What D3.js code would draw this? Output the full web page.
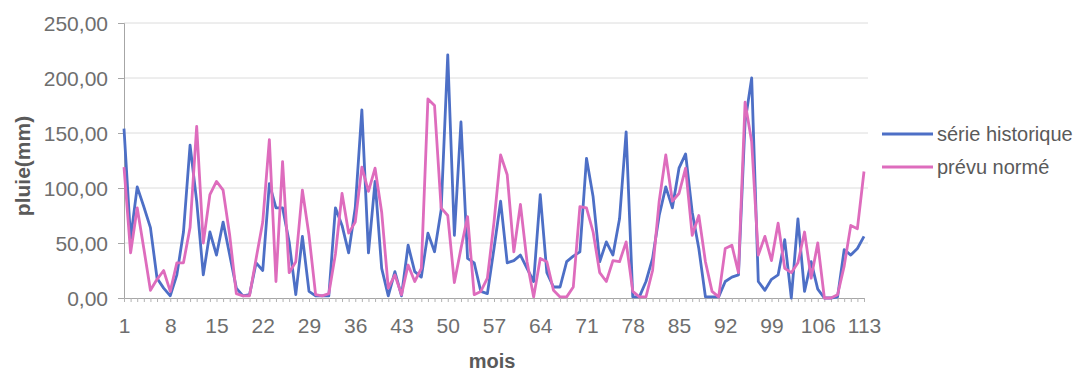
<!DOCTYPE html>
<html>
<head>
<meta charset="utf-8">
<script src="https://cdn.jsdelivr.net/npm/d3@7"></script>
<style>
  html, body { margin: 0; padding: 0; background: #fff; }
  svg { display: block; }
  text { font-family: "Liberation Sans", Arial, sans-serif; }
</style>
</head>
<body>
<svg id="chart" width="1084" height="372"></svg>
<script>
// Monthly rainfall (mm): historical series vs. normalised forecast
const months = d3.range(1, 114);
const xTickLabels = ["1","8","15","22","29","36","43","50","57","64","71","78","85","92","99","106","113"];
const yTickValues = [0, 50, 100, 150, 200, 250];

const historique = [
  154, 54, 101, 83, 64, 18, 9, 2, 21, 60,
  139, 88, 21, 60, 39, 69, 39, 9, 2, 3,
  32, 25, 104, 82, 82, 51, 3, 56, 6, 2,
  2, 2, 82, 66, 41, 82, 171, 41, 106, 27,
  2, 24, 2, 48, 24, 19, 59, 42, 80, 221,
  57, 160, 36, 32, 6, 4, 45, 88, 32, 34,
  39, 27, 15, 94, 23, 10, 10, 33, 38, 42,
  127, 92, 33, 51, 39, 72, 151, 1, 1, 15,
  36, 75, 101, 82, 118, 131, 78, 45, 1, 1,
  1, 15, 19, 21, 160, 200, 15, 7, 17, 21,
  53, 0, 72, 6, 33, 8, 0, 0, 1, 44,
  39, 45, 56
];

const prevuNorme = [
  119, 41, 82, 45, 7, 17, 25, 6, 32, 32,
  64, 156, 50, 94, 106, 98, 57, 4, 2, 2,
  36, 69, 144, 15, 124, 23, 33, 98, 57, 3,
  2, 4, 40, 95, 59, 69, 119, 97, 118, 78,
  9, 21, 3, 30, 15, 27, 181, 175, 82, 75,
  14, 45, 74, 3, 6, 18, 69, 130, 112, 42,
  85, 33, 1, 36, 33, 7, 1, 1, 10, 83,
  82, 60, 23, 15, 34, 33, 51, 6, 1, 1,
  25, 88, 130, 88, 95, 118, 57, 75, 33, 6,
  1, 45, 48, 23, 178, 142, 39, 56, 34, 68,
  27, 23, 32, 60, 18, 50, 0, 0, 3, 29,
  66, 63, 115
];

const seriesNames = ["série historique", "prévu normé"];
const seriesColors = ["#4d6fc6", "#de6cbd"];

const svg = d3.select("#chart");
const plotLeft = 124, plotRight = 864, plotTop = 23, plotBottom = 298;
const gridRight = 868;

const x = d3.scaleLinear().domain([1, 113]).range([plotLeft, plotRight]);
const y = d3.scaleLinear().domain([0, 250]).range([plotBottom, plotTop]);

// horizontal gridlines
svg.append("g")
  .selectAll("line")
  .data(yTickValues.filter(v => v > 0))
  .join("line")
  .attr("x1", plotLeft).attr("x2", gridRight)
  .attr("y1", d => y(d)).attr("y2", d => y(d))
  .attr("stroke", "#dcdcdc").attr("stroke-width", 1);

// y axis
const fmt = v => d3.format(".2f")(v).replace(".", ",");
const yAxis = svg.append("g")
  .attr("transform", `translate(${plotLeft},0)`)
  .call(d3.axisLeft(y).tickValues(yTickValues).tickFormat(fmt).tickSize(6).tickPadding(10));
yAxis.select(".domain").attr("stroke", "#a6a6a6");
yAxis.selectAll(".tick line").attr("stroke", "#a6a6a6");
yAxis.selectAll(".tick text")
  .attr("fill", "#6e6e6e").style("font-size", "21px")
  .attr("dy", "0.36em");

// x axis: a tick at every month, labels every seventh month
const xAxis = svg.append("g")
  .attr("transform", `translate(0,${plotBottom})`)
  .call(d3.axisBottom(x).tickValues(months).tickSize(4).tickFormat(d => xTickLabels.includes(String(d)) ? String(d) : "").tickPadding(16));
xAxis.select(".domain").attr("stroke", "#a6a6a6");
xAxis.selectAll(".tick line").attr("stroke", "#b3b3b3");
xAxis.selectAll(".tick text")
  .attr("fill", "#6e6e6e").style("font-size", "21px");

// series lines
const line = d3.line()
  .x((d, i) => x(months[i]))
  .y(d => y(d));

[historique, prevuNorme].forEach((vals, k) => {
  svg.append("path")
    .datum(vals)
    .attr("d", line)
    .attr("fill", "none")
    .attr("stroke", seriesColors[k])
    .attr("stroke-width", 2.8)
    .attr("stroke-linejoin", "round");
});

// axis titles
svg.append("text")
  .attr("x", 492).attr("y", 368)
  .attr("text-anchor", "middle")
  .attr("fill", "#5a5a5a").style("font-size", "20px").style("font-weight", "bold")
  .text("mois");

svg.append("text")
  .attr("transform", "translate(30,166) rotate(-90)")
  .attr("text-anchor", "middle")
  .attr("fill", "#5a5a5a").style("font-size", "21px").style("font-weight", "bold")
  .text("pluie(mm)");

// legend
const legend = svg.append("g");
seriesNames.forEach((name, k) => {
  const ly = 134 + k * 33;
  legend.append("line")
    .attr("x1", 882).attr("x2", 933)
    .attr("y1", ly).attr("y2", ly)
    .attr("stroke", seriesColors[k]).attr("stroke-width", 2.8);
  legend.append("text")
    .attr("x", 937).attr("y", ly + 7)
    .attr("fill", "#5a5a5a").style("font-size", "20px")
    .text(name);
});
</script>
</body>
</html>
